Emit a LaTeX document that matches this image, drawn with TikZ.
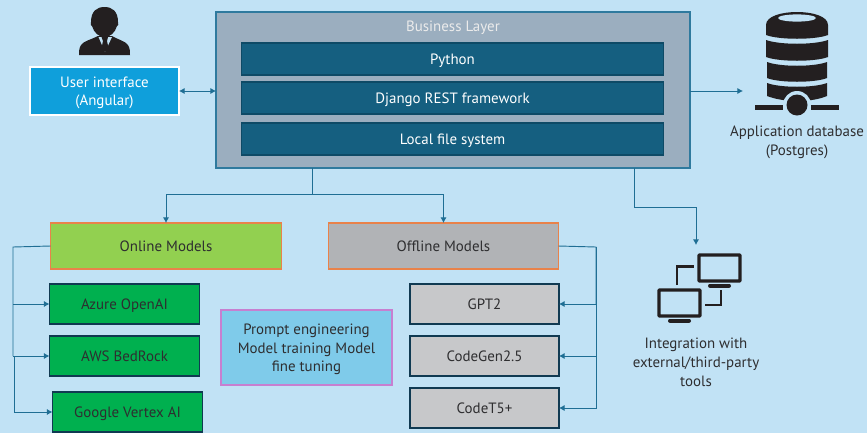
\documentclass[tikz,border=0pt]{standalone}
\usepackage{fontspec}
\setmainfont{PT Sans}
\usetikzlibrary{arrows.meta}
\definecolor{bgc}{HTML}{C1E2F5}
\definecolor{bizc}{HTML}{9BAEBF}
\definecolor{bizl}{HTML}{2F7A9E}
\definecolor{innerc}{HTML}{155F80}
\definecolor{innerl}{HTML}{0E4A66}
\definecolor{uic}{HTML}{0F9FDB}
\definecolor{linec}{HTML}{1F6E94}
\definecolor{onlc}{HTML}{92D050}
\definecolor{orl}{HTML}{E9824A}
\definecolor{offc}{HTML}{B1B3B6}
\definecolor{grnc}{HTML}{00B04F}
\definecolor{darkl}{HTML}{103A52}
\definecolor{grayc}{HTML}{C7C8CA}
\definecolor{promptc}{HTML}{7FCBEA}
\definecolor{promptl}{HTML}{C77FD0}
\definecolor{ink}{HTML}{231F20}
\definecolor{txt}{HTML}{2E2E30}
\newcommand{\lbl}[1]{\raisebox{-4.4pt}[0pt][0pt]{#1}}
\newcommand{\lblm}[1]{\raisebox{-4.2pt}[0pt][0pt]{\begin{tabular}{@{}c@{}}#1\end{tabular}}}
\tikzset{
  every node/.style={font=\fontsize{11.2pt}{13.8pt}\selectfont, text=txt, align=center, inner sep=0pt, outer sep=0pt},
  bizbox/.style={draw=bizl, fill=bizc, line width=0.8pt},
  innerbox/.style={draw=innerl, fill=innerc, line width=0.8pt, text=white},
  uibox/.style={draw=white, fill=uic, line width=1.5pt, text=white},
  topbox/.style={draw=orl, line width=0.8pt},
  subbox/.style={draw=darkl, line width=1.1pt},
  conn/.style={draw=linec, line width=0.7pt},
  tip/.style={-{Latex[length=4.2pt,width=4.6pt]}},
  icon/.style={fill=ink, draw=none},
  screen/.style={draw=ink, line width=2.4pt, rounded corners=0.5pt},
}
\begin{document}
\begin{tikzpicture}[x=0.75pt,y=-0.75pt]
\useasboundingbox (0,0) rectangle (867,433);
\fill[bgc] (0,0) rectangle (867,433);

% business layer
\node[bizbox, minimum width=474*0.75pt, minimum height=156*0.75pt] (biz) at (453,90) {};
\node[text=white!92!black] (biztitle) at (453,28) {Business Layer};
\node[innerbox, minimum width=422*0.75pt, minimum height=32*0.75pt] (py) at (452.5,59) {\lbl{Python}};
\node[innerbox, minimum width=422*0.75pt, minimum height=32*0.75pt] (dj) at (452.5,98) {\lbl{Django REST framework}};
\node[innerbox, minimum width=422*0.75pt, minimum height=32*0.75pt] (fs) at (452.5,139) {\lbl{Local file system}};

% user
\node[uibox, minimum width=149*0.75pt, minimum height=48*0.75pt] (ui) at (104.5,91) {\lblm{User interface\\(Angular)}};
\fill[icon] (91,22) .. controls (91,11) and (97,7) .. (104.5,7) .. controls (112,7) and (118,11) .. (118,22)
  .. controls (119,24) and (118,26) .. (117,26) .. controls (115,33) and (110,37) .. (104.5,37)
  .. controls (99,37) and (94,33) .. (92,26) .. controls (91,26) and (90,24) .. (91,22) -- cycle;
\fill[icon] (98,36) .. controls (90,40) and (84,41) .. (81,45) .. controls (79,48) and (79,52) .. (79,55)
  -- (130,55) .. controls (130,52) and (130,48) .. (128,45) .. controls (125,41) and (119,40) .. (112,36) -- cycle;
\fill[bgc] (98.5,37) -- (112,37) -- (105,52) -- cycle;
\fill[icon] (101.5,37) -- (108,37) -- (107,41) -- (108.5,48) -- (105,52) -- (101.5,48) -- (103,41) -- cycle;

% database
\fill[icon] (766,25) .. controls (766,16) and (782,12) .. (797,12) .. controls (812,12) and (828,16) .. (828,25)
  -- (828,35) .. controls (815,40) and (779,40) .. (766,35) -- cycle;
\fill[bgc] (797,18) ellipse [x radius=19, y radius=3.6];
\fill[icon] (766,40) .. controls (780,45) and (814,45) .. (828,40) -- (828,57) .. controls (815,62) and (779,62) .. (766,57) -- cycle;
\fill[icon] (767,62) .. controls (780,67) and (814,67) .. (827,62) -- (827,78) .. controls (815,83) and (779,83) .. (767,78) -- cycle;
\fill[icon] (767,83) .. controls (780,88) and (814,88) .. (827,83) -- (827,96) .. controls (820,99) and (810,101) .. (797,101) .. controls (785,101) and (775,99) .. (767,96) -- cycle;
\fill[bgc] (797,105) circle [radius=14];
\fill[icon] (797,105) circle [radius=10.5];
\fill[icon] (755,104.5) rectangle (783,109.5);
\fill[icon] (811,104.5) rectangle (839,109.5);
\node (dbt) at (797,142.5) {Application database\\(Postgres)};
\coordinate (dbin) at (743,91);

% models
\node[topbox, fill=onlc, minimum width=231*0.75pt, minimum height=46*0.75pt] (onl) at (166,246) {\lbl{Online Models}};
\node[topbox, fill=offc, minimum width=230*0.75pt, minimum height=46*0.75pt] (off) at (443.5,246) {\lbl{Offline Models}};
\node[subbox, fill=grnc, minimum width=150*0.75pt, minimum height=40*0.75pt] (az) at (124.5,304) {\lbl{Azure OpenAI}};
\node[subbox, fill=grnc, minimum width=150*0.75pt, minimum height=40*0.75pt] (aws) at (124.5,356) {\lbl{AWS BedRock}};
\node[subbox, fill=grnc, minimum width=150*0.75pt, minimum height=40*0.75pt] (gv) at (127.5,412) {\lbl{Google Vertex AI}};
\node[subbox, fill=grayc, minimum width=149*0.75pt, minimum height=40*0.75pt] (gpt) at (484.5,304) {\lbl{GPT2}};
\node[subbox, fill=grayc, minimum width=149*0.75pt, minimum height=40*0.75pt] (cg) at (484.5,356) {\lbl{CodeGen2.5}};
\node[subbox, fill=grayc, minimum width=149*0.75pt, minimum height=40*0.75pt] (ct) at (484.5,408) {\lbl{CodeT5+}};
\node[draw=promptl, fill=promptc, line width=0.8pt, minimum width=171*0.75pt, minimum height=75*0.75pt] (pr) at (306.5,347.5) {\lblm{Prompt engineering\\Model training Model\\fine tuning}};

% external tools
\draw[screen] (699,255) rectangle (740,281);
\draw[screen] (659,290) rectangle (700,316);
\draw[ink, line width=3pt, line cap=round] (710,285.5) -- (729,285.5);
\draw[ink, line width=3pt, line cap=round] (670,320.5) -- (689,320.5);
\draw[ink, line width=2.2pt] (677,285) -- (677,266.5) -- (694,266.5);
\draw[ink, line width=2.2pt] (721,290) -- (721,305) -- (705,305);
\node (ext) at (696,362) [font=\fontsize{11.2pt}{14.2pt}\selectfont] {Integration with\\external/third-party\\tools};
\coordinate (extin) at (696,245);

% connectors
\draw[conn, {Latex[length=4.2pt,width=4.6pt]}-{Latex[length=4.2pt,width=4.6pt]}] (ui.east) -- (biz.west |- ui.east);
\draw[conn, tip] (biz.east |- dbin) -- (dbin);
\coordinate (splitr) at (312,194);
\draw[conn] (biz.south -| splitr) -- (splitr);
\draw[conn, tip] (splitr) -| (onl.north);
\draw[conn, tip] (splitr) -| (off.north);
\coordinate (extout) at (634,207);
\draw[conn, tip] (biz.south -| extout) -- (extout) -| (extin);
\coordinate (lbus) at (13,247);
\draw[conn] (onl.west) -- (lbus) -- (lbus |- aws.west);
\draw[conn, tip] (lbus |- az.west) -- (az.west);
\draw[conn, tip] (lbus |- aws.west) -- (aws.west);
\draw[conn, tip] (14,356) |- (gv.west);
\coordinate (rbus) at (596,247);
\draw[conn] (off.east) -- (rbus) -- (rbus |- gpt.east);
\draw[conn, tip] (rbus |- gpt.east) -- (gpt.east);
\draw[conn, tip] (rbus |- cg.east) -- (cg.east);
\draw[conn, tip] (rbus) |- (ct.east);
\end{tikzpicture}
\end{document}
